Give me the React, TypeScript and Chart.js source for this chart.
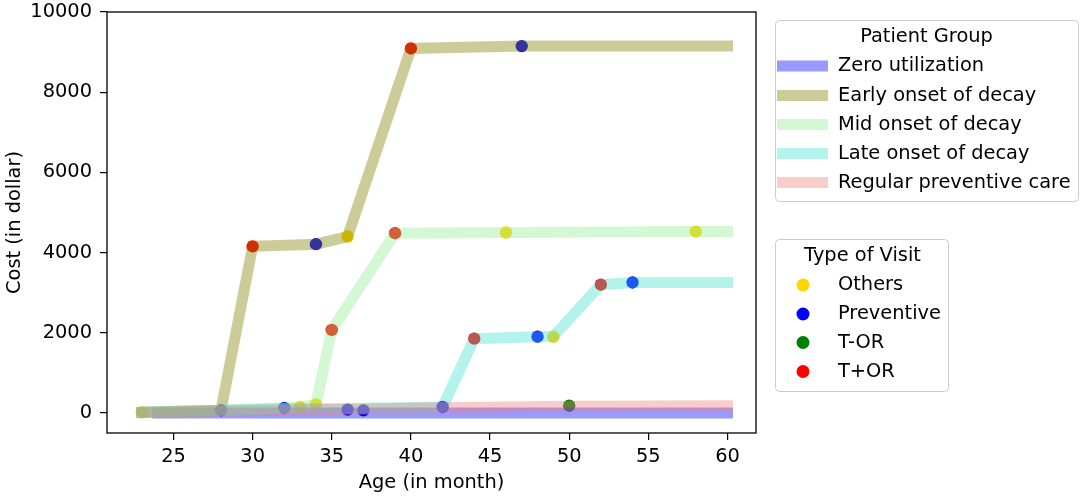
import React, { useEffect, useRef } from "react";
import { Chart, registerables } from "chart.js";

Chart.register(...registerables);

// ---- Data ----
const xTicks = [25, 30, 35, 40, 45, 50, 55, 60];
const yTicks = [0, 2000, 4000, 6000, 8000, 10000];

const groupNames = [
  "Zero utilization",
  "Early onset of decay",
  "Mid onset of decay",
  "Late onset of decay",
  "Regular preventive care",
];
const groupColors = [
  "rgba(0,0,255,0.4)",
  "rgba(128,128,0,0.4)",
  "rgba(144,238,144,0.4)",
  "rgba(64,224,208,0.4)",
  "rgba(240,128,128,0.4)",
];

const zeroAge = [24, 60];
const zeroCost = [0, 0];
const earlyAge = [23, 28, 30, 34, 36, 40, 47, 60];
const earlyCost = [15, 65, 4155, 4210, 4400, 9090, 9150, 9150];
const midAge = [23, 28, 32, 33, 34, 35, 39, 46, 58, 60];
const midCost = [15, 65, 125, 150, 215, 2070, 4483, 4500, 4523, 4525];
const lateAge = [23, 28, 32, 36, 37, 42, 44, 48, 49, 52, 54, 60];
const lateCost = [15, 65, 110, 110, 115, 150, 1853, 1903, 1910, 3200, 3255, 3255];
const regularAge = [23, 28, 36, 42, 50, 60];
const regularCost = [10, 50, 90, 130, 170, 180];

const visitNames = ["Others", "Preventive", "T-OR", "T+OR"];
const visitColors = ["#FFD700", "#0000FF", "#008000", "#FF0000"];

const othersAge = [23, 33, 34, 36, 46, 49, 58];
const othersCost = [15, 150, 215, 4400, 4500, 1900, 4523];
const preventiveAge = [28, 32, 34, 36, 37, 42, 47, 48, 54];
const preventiveCost = [65, 125, 4210, 82, 65, 150, 9150, 1903, 3255];
const torMinusAge = [50];
const torMinusCost = [180];
const torPlusAge = [30, 35, 39, 40, 44, 52];
const torPlusCost = [4155, 2070, 4483, 9090, 1853, 3200];

const zip = (xs: number[], ys: number[]) => xs.map((x, i) => ({ x, y: ys[i] }));

const FONT = "DejaVu Sans";
const FS = 19.4;

const legendPlugin = {
  id: "customLegends",
  afterDatasetsDraw(chart: any) {
    const { ctx, chartArea } = chart;
    ctx.save();
    ctx.strokeStyle = "#000";
    ctx.lineWidth = 1.3;
    ctx.strokeRect(chartArea.left, chartArea.top, chartArea.right - chartArea.left, chartArea.bottom - chartArea.top);
    ctx.restore();
  },
  afterDraw(chart: any) {
    const { ctx } = chart;
    ctx.save();
    const roundRect = (x: number, y: number, w: number, h: number, r: number) => {
      ctx.beginPath();
      ctx.moveTo(x + r, y);
      ctx.lineTo(x + w - r, y);
      ctx.quadraticCurveTo(x + w, y, x + w, y + r);
      ctx.lineTo(x + w, y + h - r);
      ctx.quadraticCurveTo(x + w, y + h, x + w - r, y + h);
      ctx.lineTo(x + r, y + h);
      ctx.quadraticCurveTo(x, y + h, x, y + h - r);
      ctx.lineTo(x, y + r);
      ctx.quadraticCurveTo(x, y, x + r, y);
      ctx.closePath();
    };
    ctx.font = `${FS}px "${FONT}"`;
    ctx.textBaseline = "middle";
    // Box 1
    roundRect(775.5, 20.5, 303, 181, 4);
    ctx.fillStyle = "rgba(255,255,255,0.8)";
    ctx.fill();
    ctx.strokeStyle = "#cccccc";
    ctx.lineWidth = 1;
    ctx.stroke();
    ctx.fillStyle = "#000";
    ctx.textAlign = "center";
    ctx.fillText("Patient Group", 926.5, 37);
    ctx.textAlign = "left";
    const rows1 = [66, 95.5, 124.5, 153.5, 182.5];
    groupNames.forEach((n, i) => {
      ctx.fillStyle = groupColors[i];
      ctx.fillRect(777, rows1[i] - 5.5, 51, 11);
      ctx.fillStyle = "#000";
      ctx.fillText(n, 838, rows1[i]);
    });
    // Box 2
    roundRect(775.5, 239.5, 173, 152, 4);
    ctx.fillStyle = "rgba(255,255,255,0.8)";
    ctx.fill();
    ctx.strokeStyle = "#cccccc";
    ctx.stroke();
    ctx.fillStyle = "#000";
    ctx.textAlign = "center";
    ctx.fillText("Type of Visit", 862.5, 256);
    ctx.textAlign = "left";
    const rows2 = [285, 314, 342.5, 371.5];
    visitNames.forEach((n, i) => {
      ctx.beginPath();
      ctx.arc(803, rows2[i], 6.5, 0, Math.PI * 2);
      ctx.fillStyle = visitColors[i];
      ctx.fill();
      ctx.fillStyle = "#000";
      ctx.fillText(n, 838, rows2[i]);
    });
    ctx.restore();
  },
};

export default function App() {
  const ref = useRef<HTMLCanvasElement | null>(null);
  useEffect(() => {
    if (!ref.current) return;
    const lineDs = (label: string, xs: number[], ys: number[], color: string, order: number) => ({
      type: "line" as const,
      label,
      data: zip(xs, ys),
      borderColor: color,
      backgroundColor: color,
      borderWidth: 11,
      borderCapStyle: "square" as const,
      borderJoinStyle: "miter" as const,
      pointRadius: 0,
      tension: 0,
      fill: false,
      order,
    });
    const dotDs = (label: string, xs: number[], ys: number[], color: string, order: number) => ({
      type: "scatter" as const,
      label,
      data: zip(xs, ys),
      backgroundColor: color,
      borderColor: color,
      borderWidth: 0,
      pointRadius: 6.2,
      order,
    });
    const chart = new Chart(ref.current, {
      type: "scatter",
      data: {
        datasets: [
          lineDs(groupNames[4], regularAge, regularCost, groupColors[4], 0),
          lineDs(groupNames[3], lateAge, lateCost, groupColors[3], 1),
          lineDs(groupNames[2], midAge, midCost, groupColors[2], 2),
          lineDs(groupNames[1], earlyAge, earlyCost, groupColors[1], 3),
          lineDs(groupNames[0], zeroAge, zeroCost, groupColors[0], 4),
          dotDs(visitNames[3], torPlusAge, torPlusCost, visitColors[3], 5),
          dotDs(visitNames[2], torMinusAge, torMinusCost, visitColors[2], 6),
          dotDs(visitNames[1], preventiveAge, preventiveCost, visitColors[1], 7),
          dotDs(visitNames[0], othersAge, othersCost, visitColors[0], 8),
        ] as any,
      },
      options: {
        animation: false,
        responsive: false,
        maintainAspectRatio: false,
        layout: { padding: { top: 12, right: 328, left: 0, bottom: 0 } },
        plugins: { legend: { display: false }, tooltip: { enabled: false } },
        scales: {
          x: {
            type: "linear",
            min: 20.8,
            max: 61.8,
            afterBuildTicks: (s: any) => {
              s.ticks = xTicks.map((v) => ({ value: v }));
            },
            afterFit: (s: any) => {
              s.height = 64;
              s.paddingLeft = 0;
              s.paddingRight = 0;
            },
            border: { display: false },
            grid: { drawOnChartArea: false, drawTicks: true, tickLength: 7, color: "#000", lineWidth: 1.2 },
            ticks: {
              color: "#000",
              font: { family: FONT, size: FS },
              padding: 5,
              maxRotation: 0,
              callback: (v: any) => String(v),
            },
            title: {
              display: true,
              text: "Age (in month)",
              color: "#000",
              font: { family: FONT, size: FS },
              padding: { top: 0, bottom: 2 },
            },
          },
          y: {
            type: "linear",
            min: -500,
            max: 10000,
            afterBuildTicks: (s: any) => {
              s.ticks = yTicks.map((v) => ({ value: v }));
            },
            afterFit: (s: any) => {
              s.width = 107;
              s.paddingTop = 0;
              s.paddingBottom = 0;
            },
            border: { display: false },
            grid: { drawOnChartArea: false, drawTicks: true, tickLength: 7, color: "#000", lineWidth: 1.2 },
            ticks: {
              color: "#000",
              font: { family: FONT, size: FS },
              padding: 8,
              callback: (v: any) => String(v),
            },
            title: {
              display: true,
              text: "Cost (in dollar)",
              color: "#000",
              font: { family: FONT, size: FS },
              padding: { top: 3, bottom: 0 },
            },
          },
        },
      },
      plugins: [legendPlugin],
    } as any);
    return () => chart.destroy();
  }, []);
  return (
    <div style={{ position: "fixed", left: 0, top: 0, width: 1084, height: 497, background: "#fff" }}>
      <canvas ref={ref} width={1084} height={497} style={{ width: 1084, height: 497 }} />
    </div>
  );
}
